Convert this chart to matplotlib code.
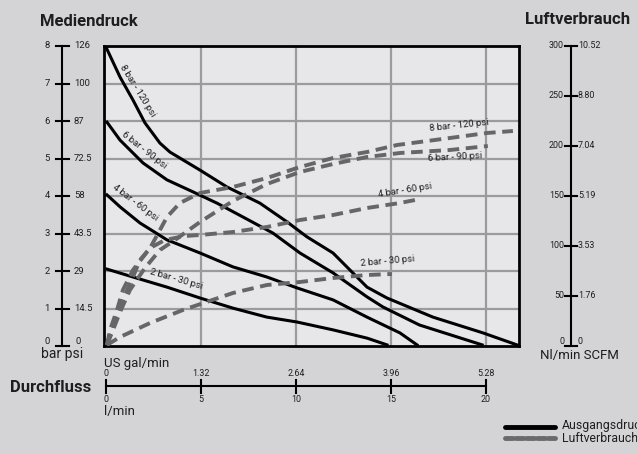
import matplotlib
matplotlib.use('Agg')
import matplotlib.pyplot as plt

plt.rcParams['font.family'] = ['Roboto', 'DejaVu Sans']

# --- data -------------------------------------------------------------
# outlet pressure (bar) vs flow (l/min), one curve per inlet pressure
p8_flow = [0, 0.74, 1.42, 2.05, 2.84, 3.37, 4.95, 6.37, 8.1, 9.53, 10.58, 11.95, 13.74, 14.79, 17.21, 19.84, 21.63]
p8_bar = [7.97, 7.17, 6.56, 5.95, 5.41, 5.17, 4.69, 4.24, 3.81, 3.31, 2.91, 2.48, 1.57, 1.28, 0.77, 0.35, 0.03]
p6_flow = [0.05, 0.74, 1.95, 3.21, 4.58, 5.84, 7.21, 8.79, 10.21, 11.95, 13.74, 14.58, 16.5, 19.8]
p6_bar = [5.97, 5.49, 4.88, 4.43, 4.11, 3.81, 3.44, 3.01, 2.48, 1.95, 1.31, 1.04, 0.56, 0.03]
p4_flow = [0.05, 0.74, 1.79, 3.21, 4.95, 6.68, 8.47, 10.05, 11.95, 13.74, 15.47, 16.37]
p4_bar = [4.03, 3.71, 3.28, 2.83, 2.48, 2.11, 1.84, 1.55, 1.23, 0.77, 0.35, 0.03]
p2_flow = [0.05, 1.42, 3.21, 4.95, 6.68, 8.47, 10.05, 11.95, 13.74, 14.79]
p2_bar = [2.05, 1.84, 1.57, 1.28, 1.01, 0.77, 0.64, 0.43, 0.21, 0.03]

# air consumption (Nl/min) vs flow (l/min)
a8_flow = [0.05, 0.21, 0.58, 0.89, 1.42, 2.32, 2.84, 3.21, 3.89, 4.95, 6.68, 8.47, 10.21, 11.95, 13.74, 15.32, 18.1, 20.05, 21.42]
a8_nl = [1, 16, 36, 56, 76, 98, 116, 129, 143, 153, 159, 168, 179, 188, 194, 201, 208, 213, 215]
a6_flow = [0.05, 0.37, 0.74, 1.26, 2.05, 2.84, 3.63, 4.95, 6.68, 8.47, 10.21, 11.95, 13.74, 15.47, 18.1, 20.1]
a6_nl = [1, 16, 34, 56, 78, 96, 106, 124, 145, 162, 174, 182, 189, 193, 196, 200]
a4_flow = [0.05, 0.47, 1.0, 1.42, 1.79, 2.32, 3.1, 4.16, 4.95, 6.68, 8.47, 10.21, 11.95, 13.74, 15.47, 16.53]
a4_nl = [1, 26, 51, 69, 86, 98, 106, 110, 111, 114, 119, 126, 131, 138, 143, 147]
a2_flow = [0.05, 0.74, 2.32, 4.05, 6.68, 8.47, 10.21, 11.95, 13.74, 15.05]
a2_nl = [1, 9, 23, 36, 53, 61, 64, 68, 71, 72]

bar_ticks = [0, 1, 2, 3, 4, 5, 6, 7, 8]
psi_labels = ['0', '14.5', '29', '43.5', '58', '72.5', '87', '100', '126']
nl_ticks = [0, 50, 100, 150, 200, 250, 300]
scfm_labels = ['0', '1.76', '3.53', '5.19', '7.04', '8.80', '10.52']
lmin_ticks = [0, 5, 10, 15, 20]
gal_labels = ['0', '1.32', '2.64', '3.96', '5.28']

# --- figure -----------------------------------------------------------
W, H = 637, 453
BG = '#d4d4d6'
TXT = '#1e1e1e'
fig = plt.figure(figsize=(W / 100, H / 100), dpi=100)
fig.patch.set_facecolor(BG)


def px_axes(x0, y0, x1, y1):
    return fig.add_axes([x0 / W, 1 - y1 / H, (x1 - x0) / W, (y1 - y0) / H])


XLIM = (-0.105, 21.74)

ax = px_axes(104, 46, 519, 346)
ax.set_facecolor('#e7e7e9')
ax.set_xlim(*XLIM)
ax.set_ylim(0, 8)
ax.set_xticks([5, 10, 15, 20])
ax.set_yticks(bar_ticks[1:])
ax.grid(True, color='#9b9b9d', lw=1.6)
ax.tick_params(length=0, labelbottom=False, labelleft=False)
for s in ax.spines.values():
    s.set_linewidth(2)
    s.set_color('black')
    s.set_zorder(10)

ax2 = ax.twinx()
ax2.set_ylim(0, 300)
ax2.axis('off')

dash_kw = dict(color='#666668', lw=2.8, dashes=(3.0, 1.7), dash_capstyle='butt', zorder=3)
for fx, fy in [(a8_flow, a8_nl), (a6_flow, a6_nl), (a4_flow, a4_nl), (a2_flow, a2_nl)]:
    ax2.plot(fx, fy, **dash_kw)

for fx, fy in [(p8_flow, p8_bar), (p6_flow, p6_bar), (p4_flow, p4_bar), (p2_flow, p2_bar)]:
    ax.plot(fx, fy, color='black', lw=2.2, solid_joinstyle='round', zorder=4)

# --- overlay for texts (pixel coords) ---------------------------------
ov = fig.add_axes([0, 0, 1, 1], facecolor='none')
ov.set_xlim(0, W)
ov.set_ylim(H, 0)
ov.axis('off')

fs = 6.8
ov.text(40, 22, 'Mediendruck', fontsize=12, fontweight='bold', va='center', color=TXT)
ov.text(525, 20, 'Luftverbrauch', fontsize=12, fontweight='bold', va='center', color=TXT)
ov.text(10, 387, 'Durchfluss', fontsize=12, fontweight='bold', va='center', color=TXT)
ov.text(41, 354, 'bar psi', fontsize=10, va='center', color=TXT)
ov.text(540, 355, 'Nl/min SCFM', fontsize=9.5, va='center', color=TXT)
ov.text(104, 363, 'US gal/min', fontsize=9.5, va='center', color=TXT)
ov.text(104, 411, 'l/min', fontsize=9.5, va='center', color=TXT)

# curve labels
lab_kw = dict(fontsize=6.8, ha='center', va='center', rotation_mode='anchor', color=TXT)
ov.text(138, 91, '8 bar - 120 psi', rotation=-58, **lab_kw)
ov.text(144, 150, '6 bar - 90 psi', rotation=-38, **lab_kw)
ov.text(135, 203, '4 bar - 60 psi', rotation=-37, **lab_kw)
ov.text(176, 279, '2 bar - 30 psi', rotation=-16, **lab_kw)
ov.text(459, 125, '8 bar - 120 psi', rotation=6, **lab_kw)
ov.text(455, 157, '6 bar - 90 psi', rotation=3, **lab_kw)
ov.text(405, 190, '4 bar - 60 psi', rotation=9, **lab_kw)
ov.text(388, 261, '2 bar - 30 psi', rotation=5, **lab_kw)

# legend (clipped by the figure edge like the original)
ov.plot([505, 555], [427, 427], color='black', lw=3.5, solid_capstyle='round')
ov.text(562, 426, 'Ausgangsdruck', fontsize=8.8, va='center', color=TXT)
ov.plot([505, 555], [438, 438], color='#6a6a6c', lw=3.5, dashes=(1.6, 0.6), dash_capstyle='round')
ov.text(562, 439, 'Luftverbrauch', fontsize=8.8, va='center', color=TXT)

# --- left pressure scale ------------------------------------------------
axl = px_axes(30, 46, 100, 346)
axl.set_xlim(30, 100)
axl.set_ylim(0, 8)
axl.axis('off')
axl.plot([62, 62], [0, 8], color='black', lw=1.5, clip_on=False)
for b, p in zip(bar_ticks, psi_labels):
    axl.plot([56, 69], [b, b], color='black', lw=1.5, clip_on=False)
    if b == 0:
        axl.text(50, b, str(b), fontsize=fs, ha='right', va='bottom', color=TXT)
        axl.text(76, b, p, fontsize=fs, ha='left', va='bottom', color=TXT)
    else:
        axl.text(50, b, str(b), fontsize=fs, ha='right', va='center', color=TXT)
        axl.text(74, b, p, fontsize=fs, ha='left', va='center', color=TXT)

# --- right air scale ----------------------------------------------------
axr = px_axes(530, 46, 630, 346)
axr.set_xlim(530, 630)
axr.set_ylim(0, 300)
axr.axis('off')
axr.plot([571, 571], [0, 300], color='black', lw=1.5, clip_on=False)
for n, s in zip(nl_ticks, scfm_labels):
    axr.plot([565, 577], [n, n], color='black', lw=1.5, clip_on=False)
    va = 'bottom' if n == 0 else 'center'
    axr.text(564, n, str(n), fontsize=6.4, ha='right', va=va, color=TXT)
    axr.text(578, n, s, fontsize=6.4, ha='left', va=va, color=TXT)

# --- bottom flow scale --------------------------------------------------
axb = px_axes(104, 368, 519, 404)
axb.set_xlim(*XLIM)
axb.set_ylim(404, 368)
axb.axis('off')
axb.plot([0, 20], [386, 386], color='black', lw=1.5, clip_on=False)
for t, g in zip(lmin_ticks, gal_labels):
    axb.plot([t, t], [380, 393], color='black', lw=1.5, clip_on=False)
    axb.text(t, 378, g, fontsize=6.4, ha='center', va='bottom', color=TXT)
    axb.text(t, 395, str(t), fontsize=6.4, ha='center', va='top', color=TXT)

fig.savefig('out.png', dpi=100, facecolor=BG)
